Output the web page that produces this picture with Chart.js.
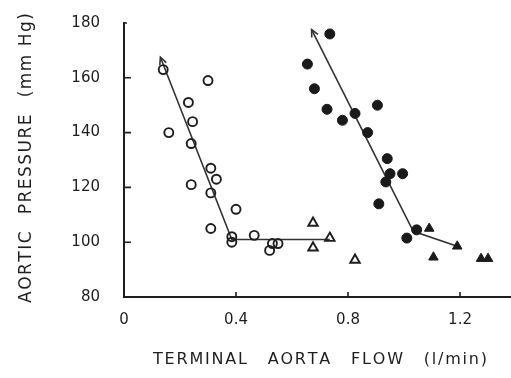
<!DOCTYPE html>
<html>
<head>
<meta charset="utf-8">
<script src="https://cdn.jsdelivr.net/npm/chart.js@4.4.0/dist/chart.umd.min.js"></script>
<style>
  html, body { margin: 0; padding: 0; background: #fff; }
  #wrap { width: 511px; height: 378px; }
</style>
</head>
<body>
<div id="wrap"><canvas id="grafico" width="511" height="378"></canvas></div>
<script>
// ================================
// Pressão aórtica x fluxo da aorta terminal
// ================================

// ticks dos eixos
const xTicks = [0, 0.4, 0.8, 1.2];
const yTicks = [80, 100, 120, 140, 160, 180];

// círculos abertos
const circAbertoX = [0.14, 0.16, 0.30, 0.23, 0.245, 0.24, 0.31, 0.33, 0.24, 0.31, 0.40, 0.31, 0.385, 0.385, 0.465, 0.52, 0.53, 0.55];
const circAbertoY = [163, 140, 159, 151, 144, 136, 127, 123, 121, 118, 112, 105, 102, 100, 102.5, 97, 99.5, 99.5];

// triângulos abertos
const triAbertoX = [0.675, 0.675, 0.735, 0.825];
const triAbertoY = [107, 98, 101.5, 93.5];

// círculos cheios
const circCheioX = [0.735, 0.655, 0.68, 0.725, 0.78, 0.825, 0.905, 0.87, 0.94, 0.95, 0.995, 0.935, 0.91, 1.01, 1.045];
const circCheioY = [176, 165, 156, 148.5, 144.5, 147, 150, 140, 130.5, 125, 125, 122, 114, 101.5, 104.5];

// triângulos cheios
const triCheioX = [1.09, 1.19, 1.105, 1.275, 1.30];
const triCheioY = [105, 98.5, 94.5, 94, 94];

// retas ajustadas (o primeiro ponto recebe a seta)
const retaAX = [0.13, 0.385, 0.735];
const retaAY = [167.5, 101, 101];
const retaBX = [0.67, 1.033, 1.19];
const retaBY = [177.6, 104, 98.5];

const TINTA = "#1e1e1e";
const FONTE = "'DejaVu Sans', sans-serif";

function pontos(xs, ys) {
  return xs.map((x, i) => ({ x: x, y: ys[i] }));
}

// escreve palavras com espaçamento entre letras, centradas em (0,0)
function textoEspacado(ctx, palavras, total, espLetra) {
  const larg = palavras.map(p => {
    let w = 0;
    for (const c of p) w += ctx.measureText(c).width + espLetra;
    return w - espLetra;
  });
  const soma = larg.reduce((a, b) => a + b, 0);
  const vao = (total - soma) / (palavras.length - 1);
  let x = -total / 2;
  palavras.forEach(p => {
    for (const c of p) {
      ctx.fillText(c, x, 0);
      x += ctx.measureText(c).width + espLetra;
    }
    x += vao - espLetra;
  });
}

// zera o recuo automático que o Chart.js reserva para os rótulos
function semRecuo(s) {
  s.paddingLeft = 0;
  s.paddingRight = 0;
  s.paddingTop = 0;
  s.paddingBottom = 0;
}

// ticks internos, setas nas retas e títulos dos eixos
const extras = {
  id: "extras",
  afterDatasetsDraw(chart) {
    const ctx = chart.ctx;
    const { x: sx, y: sy } = chart.scales;
    ctx.save();
    ctx.strokeStyle = TINTA;
    ctx.lineWidth = 1.6;
    ctx.beginPath();
    yTicks.filter(v => v > 80).forEach(v => {
      const py = sy.getPixelForValue(v);
      ctx.moveTo(sx.left, py);
      ctx.lineTo(sx.left + (v === 180 ? 3 : 7), py);
    });
    xTicks.filter(v => v > 0).forEach(v => {
      const px = sx.getPixelForValue(v);
      ctx.moveTo(px, sy.bottom);
      ctx.lineTo(px, sy.bottom - 5);
    });
    ctx.stroke();

    // setas no início de cada reta
    [0, 1].forEach(i => {
      const d = chart.getDatasetMeta(i).data;
      const ang = Math.atan2(d[0].y - d[1].y, d[0].x - d[1].x);
      const L = 8;
      ctx.beginPath();
      ctx.moveTo(d[0].x - L * Math.cos(ang - 0.45), d[0].y - L * Math.sin(ang - 0.45));
      ctx.lineTo(d[0].x, d[0].y);
      ctx.lineTo(d[0].x - L * Math.cos(ang + 0.45), d[0].y - L * Math.sin(ang + 0.45));
      ctx.lineWidth = 1.6;
      ctx.strokeStyle = "#333";
      ctx.stroke();
    });
    ctx.restore();
  },
  afterDraw(chart) {
    const ctx = chart.ctx;
    ctx.save();
    ctx.fillStyle = TINTA;
    ctx.textAlign = "left";
    ctx.textBaseline = "middle";

    ctx.font = "16px " + FONTE;
    ctx.translate(320, 360);
    textoEspacado(ctx, ["TERMINAL", "AORTA", "FLOW", "(l/min)"], 334, 1.8);
    ctx.setTransform(1, 0, 0, 1, 0, 0);

    ctx.font = "17px " + FONTE;
    ctx.translate(27, 158);
    ctx.rotate(-Math.PI / 2);
    textoEspacado(ctx, ["AORTIC", "PRESSURE", "(mm Hg)"], 290, 1.5);
    ctx.restore();
  }
};

const linhaBase = {
  showLine: true,
  pointRadius: 0,
  borderColor: "#333",
  borderWidth: 1.6,
  order: 10
};

new Chart(document.getElementById("grafico"), {
  type: "scatter",
  data: {
    datasets: [
      Object.assign({ label: "reta A", data: pontos(retaAX, retaAY) }, linhaBase),
      Object.assign({ label: "reta B", data: pontos(retaBX, retaBY) }, linhaBase),
      {
        label: "círculos abertos",
        data: pontos(circAbertoX, circAbertoY),
        pointStyle: "circle",
        pointRadius: 4.5,
        backgroundColor: "rgba(0,0,0,0)",
        borderColor: TINTA,
        borderWidth: 1.9,
        order: 1
      },
      {
        label: "triângulos abertos",
        data: pontos(triAbertoX, triAbertoY),
        pointStyle: "triangle",
        pointRadius: 5.5,
        backgroundColor: "rgba(0,0,0,0)",
        borderColor: TINTA,
        borderWidth: 1.9,
        order: 1
      },
      {
        label: "círculos cheios",
        data: pontos(circCheioX, circCheioY),
        pointStyle: "circle",
        pointRadius: 5,
        backgroundColor: "#1a1a1a",
        borderColor: "#1a1a1a",
        borderWidth: 1,
        order: 1
      },
      {
        label: "triângulos cheios",
        data: pontos(triCheioX, triCheioY),
        pointStyle: "triangle",
        pointRadius: 5.5,
        backgroundColor: "#1a1a1a",
        borderColor: "#1a1a1a",
        borderWidth: 1,
        order: 1
      }
    ]
  },
  options: {
    responsive: false,
    animation: false,
    layout: { autoPadding: false, padding: { top: 23, right: 0, bottom: 0, left: 0 } },
    plugins: {
      legend: { display: false },
      tooltip: { enabled: false }
    },
    scales: {
      x: {
        type: "linear",
        min: 0,
        max: 1.382,
        afterBuildTicks: s => { s.ticks = xTicks.map(v => ({ value: v })); },
        afterFit: s => { s.height = 81; semRecuo(s); },
        grid: { display: false, drawTicks: false },
        border: { display: true, color: TINTA, width: 2 },
        ticks: {
          padding: 14,
          color: TINTA,
          font: { family: FONTE, size: 15 },
          callback: v => (v === 0 ? "0" : v.toFixed(1))
        }
      },
      y: {
        type: "linear",
        min: 80,
        max: 180,
        afterBuildTicks: s => { s.ticks = yTicks.map(v => ({ value: v })); },
        afterFit: s => { s.width = 124; semRecuo(s); },
        grid: { display: false, drawTicks: false },
        border: { display: true, color: TINTA, width: 2 },
        ticks: {
          padding: 24,
          color: TINTA,
          font: { family: FONTE, size: 15 }
        }
      }
    }
  },
  plugins: [extras]
});
</script>
</body>
</html>
